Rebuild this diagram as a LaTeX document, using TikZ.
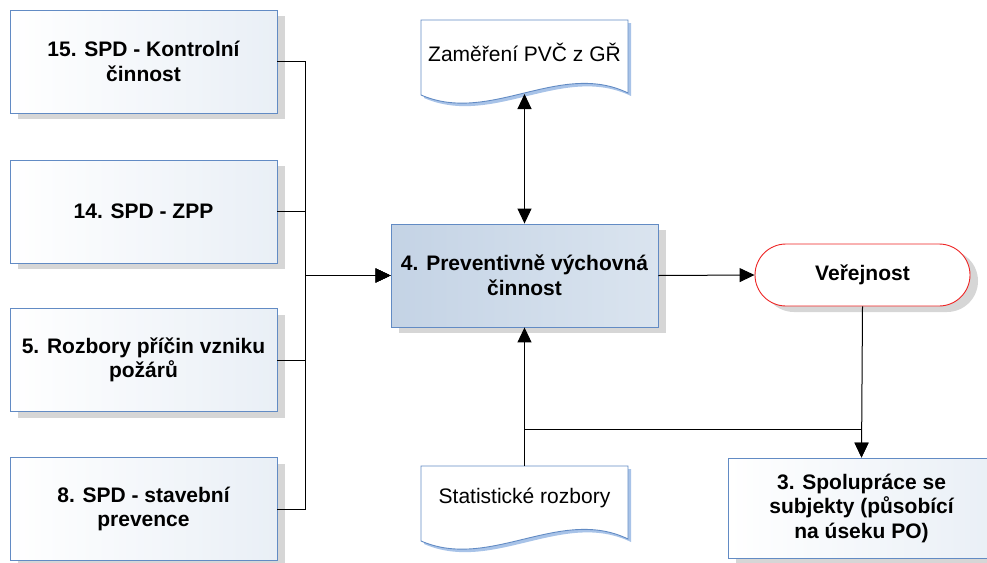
\documentclass[tikz,border=0pt]{standalone}
\usepackage{fontspec}
\setmainfont{Liberation Sans}
\usepackage{tikz}
\usetikzlibrary{shapes,arrows.meta,shadows}
\definecolor{boxline}{RGB}{98,139,196}
\definecolor{mainleft}{RGB}{196,211,229}
\definecolor{mainright}{RGB}{218,228,239}
\definecolor{boxright}{RGB}{233,239,246}
\definecolor{shadowgray}{RGB}{214,214,214}
\definecolor{docshadow}{RGB}{168,195,232}
\definecolor{pubred}{RGB}{238,36,36}
\tikzstyle{unit} = [draw=boxline, line width=0.9pt, rectangle, minimum width=267pt, minimum height=103pt, inner sep=0pt, align=center, font=\fontsize{21}{24.5}\selectfont\bfseries, drop shadow={shadow xshift=8pt, shadow yshift=-6pt, fill=shadowgray, opacity=1}]
\tikzstyle{side} = [unit, left color=white, right color=boxright]
\tikzstyle{core} = [unit, left color=mainleft, right color=mainright]
\tikzstyle{public} = [unit, draw=pubred, fill=white, rounded corners=31pt, minimum width=215pt, minimum height=62pt]
\tikzstyle{doctext} = [minimum width=208pt, minimum height=64pt, inner sep=0pt, font=\fontsize{21}{25}\selectfont]
\tikzstyle{link} = [-{Triangle[length=15pt,width=14pt]}, line width=1pt]

\tikzset{docu/.pic={
  \fill[docshadow] (3,3) -- (210,3) -- (210,76) .. controls (142,43) and (72,108) .. (3,78) -- cycle;
  \draw[boxline, line width=0.9pt, fill=white] (0,0) -- (207,0) -- (207,73) .. controls (139,40) and (69,105) .. (0,75) -- cycle;
}}

\begin{document}
\begin{tikzpicture}[x=1pt,y=-1pt]
\useasboundingbox (0,0) rectangle (987,562);

\node[side] (k15) at (143.5,61.5) {15. SPD - Kontrolní\\činnost};
\node[side] (k14) at (143.5,211.5) {14. SPD - ZPP};
\node[side] (k5) at (143.5,360) {5. Rozbory příčin vzniku\\požárů};
\node[side] (k8) at (143.5,509) {8. SPD - stavební\\prevence};

\node[core] (main) at (524.5,275.5) {4. Preventivně výchovná\\činnost};
\node[public] (verejnost) at (862.5,275) {Veřejnost};
\node[side, minimum height=100pt] (spoluprace) at (861.5,508) {3. Spolupráce se\\subjekty (působící\\na úseku PO)};

\pic at (421,20) {docu};
\pic at (421,466) {docu};
\node[doctext, anchor=north] (zamereni) at (524.5,20) {Zaměření PVČ z GŘ};
\node[doctext, anchor=north] (statistika) at (524.5,466) {Statistické rozbory};
\coordinate (zamereni-s) at (524.5,94);
\coordinate (junction) at (524.5,429);

\foreach \n in {k15,k14,k5,k8}
  \draw[link] (\n.east) -- ++(28,0) |- (main.west);

\draw[link, {Triangle[length=15pt,width=14pt]}-{Triangle[length=15pt,width=14pt]}] (zamereni-s) -- (main.north);
\draw[link] (main.east) -- (verejnost.west);
\draw[line width=1pt] (statistika.north) -- (junction);
\draw[link] (junction) -- (main.south);
\draw[link] (junction) -| (spoluprace.north);
\draw[link] (verejnost.south) -- (spoluprace.north);

\end{tikzpicture}
\end{document}
